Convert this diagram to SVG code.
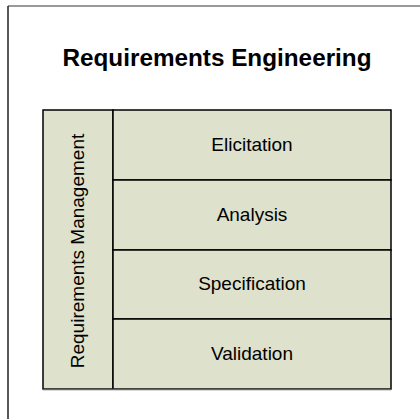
<svg xmlns="http://www.w3.org/2000/svg" width="420" height="419" viewBox="0 0 420 419">
<style>
.cell{fill:#dee1cb;stroke:#000;stroke-width:1.5}
.lbl{font-family:"Liberation Sans",Arial,sans-serif;font-size:19px;fill:#000;text-anchor:middle}
.title{font-family:"Liberation Sans",Arial,sans-serif;font-size:23px;font-weight:bold;fill:#000;text-anchor:middle}
</style>
<rect width="420" height="419" fill="#fff"/>
<g id="frame">
<line x1="8" y1="6" x2="430" y2="6" stroke="#777" stroke-width="1.5"/>
<line x1="8" y1="6" x2="8" y2="425" stroke="#222" stroke-width="1.5"/>
</g>
<text class="title" x="217" y="66" textLength="309" lengthAdjust="spacingAndGlyphs">Requirements Engineering</text>
<g id="management">
<rect class="cell" x="43" y="110" width="70" height="279"/>
<text class="lbl" transform="translate(84,251) rotate(-90)">Requirements Management</text>
</g>
<g id="elicitation">
<rect class="cell" x="113" y="110" width="278" height="70"/>
<text class="lbl" x="252" y="151">Elicitation</text>
</g>
<g id="analysis">
<rect class="cell" x="113" y="180" width="278" height="70"/>
<text class="lbl" x="252" y="221">Analysis</text>
</g>
<g id="specification">
<rect class="cell" x="113" y="250" width="278" height="69"/>
<text class="lbl" x="252" y="290">Specification</text>
</g>
<g id="validation">
<rect class="cell" x="113" y="319" width="278" height="70"/>
<text class="lbl" x="252" y="360">Validation</text>
</g>
<g id="connectors"/>
<line x1="43" y1="389.5" x2="391" y2="389.5" stroke="#666" stroke-width="1.5"/>
</svg>
